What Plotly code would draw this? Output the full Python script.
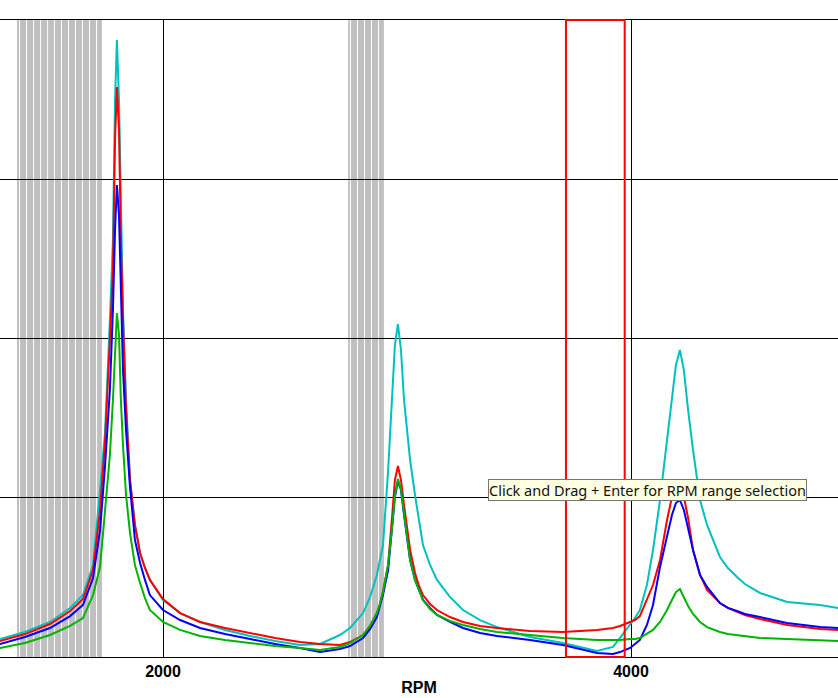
"""Order-tracking style RPM sweep chart."""
import plotly.graph_objects as go

COLORS = {
    "cyan": "#00c0c0",
    "red": "#ff0000",
    "blue": "#0000ff",
    "green": "#00b400",
    "band": "#c0c0c0",
}

rpm = [
    1303, 1410, 1517, 1603, 1658, 1701, 1731, 1752, 1773, 1786,
    1795, 1803, 1812, 1820, 1829, 1842, 1859, 1880, 1902, 1923,
    1944, 2000, 2073, 2158, 2265, 2372, 2479, 2585, 2671, 2756,
    2799, 2855, 2885, 2914, 2927, 2940, 2962, 2979, 2991, 3004,
    3017, 3030, 3043, 3056, 3077, 3094, 3111, 3141, 3171, 3226,
    3282, 3355, 3427, 3568, 3709, 3855, 3923, 3953, 3996, 4017,
    4038, 4068, 4094, 4124, 4154, 4175, 4192, 4209, 4226, 4244,
    4265, 4295, 4325, 4380, 4414, 4453, 4487, 4551, 4667, 4808,
    4885,
]

amp_cyan = [
    0.113, 0.157, 0.220, 0.308, 0.389, 0.578, 1.049, 1.407, 2.116, 2.618,
    3.498, 3.874, 3.498, 2.744, 2.179, 1.614, 1.111, 0.829, 0.653, 0.559,
    0.484, 0.358, 0.276, 0.220, 0.170, 0.132, 0.100, 0.075, 0.082, 0.138,
    0.182, 0.276, 0.377, 0.515, 0.620, 0.700, 1.170, 1.680, 1.959, 2.091,
    1.928, 1.614, 1.407, 1.237, 1.017, 0.848, 0.703, 0.578, 0.484, 0.377,
    0.295, 0.232, 0.188, 0.126, 0.088, 0.038, 0.063, 0.120, 0.201, 0.245,
    0.295, 0.452, 0.672, 0.986, 1.363, 1.614, 1.834, 1.928, 1.802, 1.551,
    1.300, 0.986, 0.829, 0.628, 0.559, 0.502, 0.458, 0.402, 0.345, 0.327,
    0.308,
]

amp_red = [
    0.100, 0.144, 0.207, 0.289, 0.364, 0.546, 0.923, 1.344, 1.991, 2.430,
    3.246, 3.579, 3.309, 2.618, 2.116, 1.551, 1.111, 0.829, 0.653, 0.559,
    0.484, 0.364, 0.276, 0.220, 0.182, 0.151, 0.119, 0.094, 0.082, 0.075,
    0.094, 0.138, 0.195, 0.276, 0.333, 0.408, 0.578, 0.879, 1.111, 1.199,
    1.111, 0.954, 0.797, 0.672, 0.527, 0.446, 0.389, 0.333, 0.295, 0.251,
    0.220, 0.195, 0.182, 0.163, 0.157, 0.170, 0.182, 0.195, 0.220, 0.232,
    0.257, 0.358, 0.452, 0.609, 0.860, 1.005, 1.061, 1.074, 1.005, 0.873,
    0.672, 0.515, 0.421, 0.339, 0.308, 0.283, 0.264, 0.239, 0.201, 0.176,
    0.170,
]

amp_blue = [
    0.082, 0.126, 0.182, 0.257, 0.327, 0.496, 0.797, 1.193, 1.677, 2.179,
    2.681, 2.964, 2.776, 2.242, 1.802, 1.425, 1.067, 0.735, 0.590, 0.484,
    0.389, 0.295, 0.232, 0.182, 0.144, 0.113, 0.082, 0.057, 0.031, 0.050,
    0.069, 0.119, 0.176, 0.251, 0.314, 0.389, 0.546, 0.797, 1.005, 1.105,
    1.049, 0.892, 0.735, 0.609, 0.484, 0.414, 0.358, 0.308, 0.264, 0.220,
    0.182, 0.151, 0.132, 0.107, 0.075, 0.025, 0.019, 0.031, 0.057, 0.082,
    0.107, 0.201, 0.327, 0.565, 0.766, 0.892, 0.967, 0.986, 0.923, 0.810,
    0.672, 0.515, 0.440, 0.339, 0.308, 0.289, 0.270, 0.251, 0.214, 0.188,
    0.182,
]

amp_green = [
    0.057, 0.088, 0.138, 0.195, 0.245, 0.389, 0.565, 0.923, 1.268, 1.614,
    1.928, 2.160, 2.022, 1.614, 1.331, 1.017, 0.779, 0.578, 0.465, 0.370,
    0.295, 0.220, 0.170, 0.132, 0.107, 0.088, 0.069, 0.057, 0.044, 0.063,
    0.088, 0.138, 0.195, 0.276, 0.333, 0.408, 0.578, 0.816, 1.017, 1.118,
    1.055, 0.904, 0.747, 0.609, 0.484, 0.414, 0.358, 0.301, 0.264, 0.226,
    0.201, 0.176, 0.157, 0.138, 0.119, 0.107, 0.107, 0.107, 0.113, 0.113,
    0.119, 0.144, 0.170, 0.220, 0.295, 0.358, 0.408, 0.427, 0.377, 0.320,
    0.270, 0.220, 0.188, 0.157, 0.144, 0.138, 0.132, 0.119, 0.113, 0.107,
    0.100,
]

# grey marker bands (start, end) and the thin white gaps inside them
gray_bands = [(1376, 1739), (2791, 2944)]
gray_gaps = [
    1387, 1417, 1447, 1477, 1507, 1536, 1566, 1596, 1626, 1656, 1686, 1716,
    2801, 2831, 2861, 2891, 2921,
]

# current RPM selection box
selection = (3722, 3973)

X_RANGE = [1303.4, 4884.6]
Y_RANGE = [0, 4]

fig = go.Figure()
for name, amps in [
    ("cyan", amp_cyan),
    ("red", amp_red),
    ("blue", amp_blue),
    ("green", amp_green),
]:
    fig.add_trace(go.Scatter(
        x=rpm, y=amps, mode="lines", name=name,
        line=dict(color=COLORS[name], width=2),
        hoverinfo="skip",
    ))

for x0, x1 in gray_bands:
    fig.add_shape(
        type="rect", xref="x", yref="paper", x0=x0, x1=x1, y0=0, y1=1,
        fillcolor=COLORS["band"], line_width=0, layer="between",
    )
for g in gray_gaps:
    fig.add_shape(
        type="line", xref="x", yref="paper", x0=g, x1=g, y0=0, y1=1,
        line=dict(color="white", width=1), layer="between",
    )

fig.add_shape(
    type="rect", xref="x", yref="paper",
    x0=selection[0], x1=selection[1], y0=0, y1=1,
    line=dict(color=COLORS["red"], width=2), layer="above",
)

fig.add_annotation(
    text="Click and Drag + Enter for RPM range selection",
    xref="paper", yref="paper", x=0.7727, y=0.2614,
    xanchor="center", yanchor="middle", showarrow=False,
    font=dict(family="Noto Sans", size=14.5, color="#111111"),
    bgcolor="#ffffe1", bordercolor="#767676", borderwidth=1, borderpad=0,
)

fig.update_layout(
    width=838, height=698,
    margin=dict(l=0, r=0, t=20, b=41),
    plot_bgcolor="white", paper_bgcolor="white",
    showlegend=False,
    xaxis=dict(
        range=X_RANGE, tick0=0, dtick=2000,
        showgrid=True, gridcolor="black", gridwidth=1,
        showline=True, mirror=True, linecolor="black", linewidth=1,
        zeroline=False, ticks="",
        tickfont=dict(family="Liberation Sans", size=16, color="black", weight="bold"),
        title=dict(text="<b>RPM</b>", standoff=2,
                   font=dict(family="Liberation Sans", size=16, color="black")),
    ),
    yaxis=dict(
        range=Y_RANGE, dtick=1,
        showgrid=True, gridcolor="black", gridwidth=1,
        showticklabels=False, zeroline=False, showline=False, ticks="",
    ),
)

fig.write_html(
    "out.html",
    config={"displayModeBar": False},
    post_script="document.body.style.margin='0';document.body.style.overflow='hidden';",
)
